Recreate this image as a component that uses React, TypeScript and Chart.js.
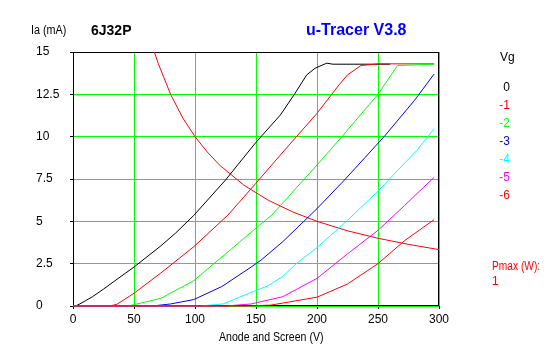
import React, { useEffect, useRef } from 'react';
import { Chart, registerables } from 'chart.js';

Chart.register(...registerables);

// Anode voltage (V) / anode current (mA) per grid voltage
const vg0V = [0, 2, 5, 10, 16, 25, 33, 50, 72, 84, 99, 125, 150, 170, 182, 191.5, 198.4, 208, 213, 260];
const vg0I = [0, 0, 0.1, 0.3, 0.55, 1.0, 1.42, 2.3, 3.55, 4.3, 5.35, 7.44, 9.67, 11.28, 12.56, 13.64, 14.04, 14.34, 14.28, 14.28];

const vg1V = [0, 30, 36, 50, 72, 99, 127, 150, 170, 200, 218, 225, 236, 250, 296];
const vg1I = [0, 0, 0.1, 0.75, 1.95, 3.5, 5.37, 7.25, 8.92, 11.38, 13.05, 13.65, 14.2, 14.3, 14.3];

const vg2V = [0, 45, 50, 72, 99, 123, 153, 163, 200, 218, 250, 266, 296];
const vg2I = [0, 0, 0.08, 0.45, 1.5, 2.95, 4.78, 5.37, 8.33, 9.8, 12.5, 14.2, 14.28];

const vg3V = [0, 65, 80, 99, 122, 146, 154, 172, 200, 222, 255, 280, 296];
const vg3I = [0, 0, 0.12, 0.38, 1.15, 2.3, 2.7, 3.8, 5.75, 7.4, 10.0, 12.15, 13.7];

const vg4V = [0, 104, 123, 146, 160, 172, 183, 200, 225, 250, 266, 282, 296];
const vg4I = [0, 0, 0.12, 0.8, 1.2, 1.75, 2.5, 3.45, 5.06, 6.78, 8.0, 9.2, 10.47];

const vg5V = [0, 125, 146, 172, 200, 225, 250, 272, 296];
const vg5I = [0, 0, 0.12, 0.55, 1.63, 3.08, 4.47, 5.95, 7.6];

const vg6V = [0, 140, 162, 200, 225, 250, 272, 296];
const vg6I = [0, 0, 0.05, 0.52, 1.3, 2.5, 3.87, 5.1];

const pmaxV = [66.7, 70, 80, 90, 100, 110, 120, 140, 160, 180, 200, 225, 250, 275, 300];
const pmaxI = [15, 14.3, 12.5, 11.1, 10, 9.1, 8.33, 7.14, 6.25, 5.56, 5, 4.44, 4, 3.64, 3.33];

const vgLabels = ['0', '-1', '-2', '-3', '-4', '-5', '-6'];
const vgColors = ['#000000', '#ff0000', '#00ff00', '#0000ff', '#00ffff', '#ff00ff', '#ff0000'];

const curveV = [vg0V, vg1V, vg2V, vg3V, vg4V, vg5V, vg6V];
const curveI = [vg0I, vg1I, vg2I, vg3I, vg4I, vg5I, vg6I];

const FONT = 'Liberation Sans, Arial, sans-serif';

function pts(xs: number[], ys: number[]) {
  return xs.map((x, i) => ({ x, y: ys[i] }));
}

function txt(ctx: CanvasRenderingContext2D, s: string, x: number, y: number, sx: number) {
  ctx.save();
  ctx.translate(x, y);
  ctx.scale(sx, 1);
  ctx.fillText(s, 0, 0);
  ctx.restore();
}

const overlayPlugin = {
  id: 'overlay',
  beforeDatasetsDraw(chart: any) {
    const { ctx, chartArea } = chart;
    ctx.save();
    ctx.strokeStyle = '#000000';
    ctx.lineWidth = 1;
    const l = Math.round(chartArea.left) + 0.5;
    const t = Math.round(chartArea.top) + 0.5;
    const r = Math.round(chartArea.right) - 0.5;
    const b = Math.round(chartArea.bottom) - 0.5;
    ctx.strokeRect(l, t, r - l, b - t);
    ctx.restore();
  },
  afterDraw(chart: any) {
    const ctx = chart.ctx;
    ctx.save();
    ctx.textBaseline = 'middle';
    ctx.textAlign = 'left';
    ctx.fillStyle = '#000000';
    ctx.font = `12px ${FONT}`;
    txt(ctx, 'Ia (mA)', 31, 31, 0.9);
    ctx.font = `bold 14px ${FONT}`;
    ctx.fillText('6J32P', 91, 31);
    ctx.fillStyle = '#0000ff';
    ctx.font = `bold 16px ${FONT}`;
    ctx.fillText('u-Tracer V3.8', 306, 31);
    ctx.fillStyle = '#000000';
    ctx.font = `12px ${FONT}`;
    ctx.fillText('Vg', 500, 58);
    txt(ctx, 'Anode and Screen (V)', 219, 338, 0.88);
    ctx.textAlign = 'right';
    const ys = [88, 106, 124, 142, 160, 178, 196];
    vgLabels.forEach((lab, i) => {
      ctx.fillStyle = vgColors[i];
      ctx.fillText(lab, 510, ys[i]);
    });
    ctx.textAlign = 'left';
    ctx.fillStyle = '#ff0000';
    txt(ctx, 'Pmax (W):', 492, 267, 0.85);
    ctx.fillText('1', 492, 282);
    ctx.restore();
  },
};

export default function App() {
  const ref = useRef<HTMLCanvasElement>(null);
  useEffect(() => {
    if (!ref.current) return;
    const datasets: any[] = curveV.map((xs, i) => ({
      label: 'Vg ' + vgLabels[i],
      data: pts(xs, curveI[i]),
      borderColor: vgColors[i],
      backgroundColor: vgColors[i],
      borderWidth: 1,
      pointRadius: 0,
      showLine: true,
      tension: 0,
      clip: false,
      order: 7 - i,
    }));
    datasets.push({
      label: 'Pmax',
      data: pts(pmaxV, pmaxI),
      borderColor: '#ff0000',
      backgroundColor: '#ff0000',
      borderWidth: 1,
      pointRadius: 0,
      showLine: true,
      tension: 0,
      order: 10,
    });
    const chart = new Chart(ref.current, {
      type: 'scatter',
      data: { datasets },
      options: {
        animation: false,
        responsive: false,
        devicePixelRatio: 1,
        layout: { padding: { left: 36, top: 52, right: 108, bottom: 0 } },
        plugins: { legend: { display: false }, tooltip: { enabled: false } },
        scales: {
          x: {
            type: 'linear',
            min: 0,
            max: 300,
            ticks: { stepSize: 50, color: '#000000', font: { family: FONT, size: 12 }, maxRotation: 0, padding: 3 },
            grid: { color: '#00ff00', tickColor: '#000000', tickLength: 3, lineWidth: 1 },
            border: { display: false },
            afterFit: (s: any) => { s.height = 51; },
          },
          y: {
            type: 'linear',
            min: 0,
            max: 15,
            ticks: { stepSize: 2.5, color: '#000000', font: { family: FONT, size: 12 }, crossAlign: 'far' },
            grid: { color: '#00ff00', tickColor: '#000000', tickLength: 3, lineWidth: 1 },
            border: { display: false },
            afterFit: (s: any) => { s.width = 37; },
          },
        },
      } as any,
      plugins: [overlayPlugin],
    });
    return () => chart.destroy();
  }, []);
  return (
    <div style={{ position: 'absolute', left: 0, top: 0, width: 547, height: 357, background: '#ffffff' }}>
      <canvas ref={ref} width={547} height={357} />
    </div>
  );
}
